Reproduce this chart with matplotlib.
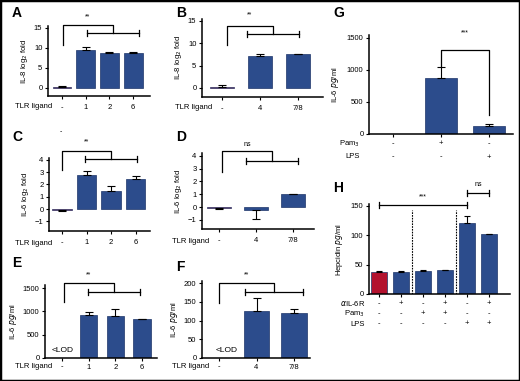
import numpy as np
import matplotlib
matplotlib.use('Agg')
import matplotlib.pyplot as plt
from matplotlib.patches import Rectangle

plt.rcParams['font.family'] = ['Liberation Sans', 'DejaVu Sans']
plt.rcParams['font.size'] = 5.5

W, H = 520, 381
BLUE = '#2C4C8C'
EDGE = '#1D3469'
RED = '#B3122E'

# ---- data ----
tlr_a = ['-', '1', '2', '6']
il8_a = [0.3, 9.6, 8.8, 8.8]
il8_a_err = [0.3, 0.7, 0.3, 0.2]

tlr_b = ['-', '4', '7/8']
il8_b = [0.3, 7.2, 7.5]
il8_b_err = [0.4, 0.3, 0.2]

il6_c = [-0.1, 2.8, 1.5, 2.4]
il6_c_err = [0.05, 0.25, 0.35, 0.25]

il6_d = [-0.1, -0.2, 1.0]
il6_d_err = [0.05, 0.7, 0.05]

il6pg_e = [np.nan, 920, 900, 840]
il6pg_e_err = [0, 60, 150, 5]

il6pg_f = [np.nan, 125, 120]
il6pg_f_err = [0, 35, 10]

il6pg_g = [0, 880, 130]
il6pg_g_err = [0, 170, 25]
g_pam = ['-', '+', '-']
g_lps = ['-', '-', '+']

hepc_h = [38, 38, 39, 41, 120, 101]
hepc_h_err = [1, 1, 1, 0.5, 13, 1]
h_ail6r = ['-', '+', '-', '+', '-', '+']
h_pam = ['-', '-', '+', '+', '-', '-']
h_lps = ['-', '-', '-', '-', '+', '+']

fig = plt.figure(figsize=(W / 100, H / 100), dpi=100)


def panel(left, right, x0, dx, y0, dy, ymin, ymax):
    # pixel geometry -> axes with matching limits
    bottom = y0 - ymin * dy
    top = y0 - ymax * dy
    ax = fig.add_axes([left / W, 1 - bottom / H, (right - left) / W, (bottom - top) / H])
    ax.set_xlim((left - x0) / dx, (right - x0) / dx)
    ax.set_ylim(ymin, ymax)
    ax.patch.set_alpha(0)
    for s in ['top', 'right']:
        ax.spines[s].set_visible(False)
    for s in ['left', 'bottom']:
        ax.spines[s].set_linewidth(1.1)
    ax.tick_params(width=0.8, length=2.5, pad=1.5, labelsize=5.5)
    return ax


def bars(ax, vals, errs, width, first_red=True, labels=None, pad=3.5):
    x = np.arange(len(vals))
    cols = [RED if (i == 0 and first_red) else BLUE for i in x]
    v = np.nan_to_num(np.array(vals, dtype=float))
    ax.bar(x, v, width, color=cols, edgecolor=EDGE, linewidth=0.5, zorder=2)
    for xi, vi, ei in zip(x, vals, errs):
        if np.isnan(vi) or ei == 0:
            continue
        yerr = [[0], [ei]] if vi >= 0 else [[ei], [0]]
        ax.errorbar(xi, vi, yerr=yerr, color='black', capsize=2.6, lw=0.8,
                    capthick=0.8, zorder=3)
    ax.set_xticks(x)
    if labels is not None:
        ax.set_xticklabels(labels)
        ax.tick_params(axis='x', pad=pad)
    return x


def bracket(ax, xl, xa, xb, ytop, yleft, ylow, label, ylab, cap):
    kw = dict(color='black', lw=0.9, clip_on=False, zorder=4)
    xm = (xa + xb) / 2
    ax.plot([xl, xl, xm, xm], [yleft, ytop, ytop, ylow], **kw)
    ax.plot([xa, xb], [ylow, ylow], **kw)
    for xx in (xa, xb):
        ax.plot([xx, xx], [ylow - cap, ylow + cap], **kw)
    ax.text((xl + xm) / 2, ylab, label, ha='center', va='center', fontsize=5)


def row_label(ax, text, dy_px, dx_px=-10, xdata=0):
    ax.annotate(text, xy=(xdata, 0), xycoords=('data', 'axes fraction'),
                xytext=(dx_px * 0.72, -dy_px * 0.72), textcoords='offset points',
                ha='right', va='center', fontsize=5.5, annotation_clip=False)


def row_signs(ax, signs, dy_px):
    for i, s in enumerate(signs):
        ax.annotate(s, xy=(i, 0), xycoords=('data', 'axes fraction'),
                    xytext=(0, -dy_px * 0.72), textcoords='offset points',
                    ha='center', va='center', fontsize=5.5, annotation_clip=False)


# ---- A ----
ax = panel(48, 150, 62, 23.7, 88, 4.0, -2, 15.5)
bars(ax, il8_a, il8_a_err, 0.8, labels=tlr_a)
ax.set_yticks([0, 5, 10, 15])
ax.set_ylabel('IL-8 log$_2$ fold', labelpad=3)
row_label(ax, 'TLR ligand', 11)
bracket(ax, 0.04, 1.05, 3.25, 15.75, 10.75, 13.75, '**', 17.8, 0.7)

# ---- B ----
ax = panel(202, 323, 222, 38, 88, 4.47, -2, 15.5)
bars(ax, il8_b, il8_b_err, 0.65, labels=tlr_b)
ax.set_yticks([0, 5, 10, 15])
ax.set_ylabel('IL-8 log$_2$ fold', labelpad=3)
row_label(ax, 'TLR ligand', 11)
bracket(ax, 0.13, 0.66, 2.03, 13.9, 9.6, 12.1, '**', 16.3, 0.6)

# ---- C ----
ax = panel(49, 150, 62, 24.5, 209, 12.3, -1.79, 4.15)
bars(ax, il6_c, il6_c_err, 0.78, labels=tlr_a)
ax.set_yticks([-1, 0, 1, 2, 3, 4])
ax.set_ylabel('IL-6 log$_2$ fold', labelpad=3)
row_label(ax, 'TLR ligand', 12)
bracket(ax, 0.0, 0.94, 3.06, 4.7, 3.2, 4.07, '**', 5.45, 0.22)
ax.text(-0.05, 6.3, '-', ha='center', va='center', fontsize=5, clip_on=False)

# ---- D ----
ax = panel(202, 314, 219, 37, 207, 12.8, -1.72, 4.2)
bars(ax, il6_d, il6_d_err, 0.65, labels=tlr_b)
ax.set_yticks([-1, 0, 1, 2, 3, 4])
ax.set_ylabel('IL-6 log$_2$ fold', labelpad=3)
row_label(ax, 'TLR ligand', 12)
bracket(ax, 0.08, 0.73, 2.14, 4.4, 2.7, 3.6, 'ns', 4.9, 0.22)

# ---- E ----
ax = panel(45, 157, 62, 26.7, 358, 0.0466, 0, 1560)
bars(ax, il6pg_e, il6pg_e_err, 0.65, labels=tlr_a, pad=1.5)
ax.set_yticks([0, 500, 1000, 1500])
ax.set_ylabel(r'IL-6 $\mathit{pg}$/ml', labelpad=3)
row_label(ax, 'TLR ligand', 9)
ax.text(-0.38, 170, '<LOD', ha='left', va='center', fontsize=6)
bracket(ax, 0.07, 0.97, 2.92, 1610, 1200, 1416, '**', 1780, 60)

# ---- F ----
ax = panel(202, 310, 219, 37.5, 358, 0.374, 0, 205)
bars(ax, il6pg_f, il6pg_f_err, 0.67, labels=tlr_b, pad=1.5)
ax.set_yticks([0, 50, 100, 150, 200])
ax.set_ylabel(r'IL-6 $\mathit{pg}$/ml', labelpad=3)
row_label(ax, 'TLR ligand', 9)
ax.text(-0.1, 21, '<LOD', ha='left', va='center', fontsize=6)
bracket(ax, 0.0, 0.69, 2.24, 200, 147, 176, '**', 222, 8)

# ---- G ----
ax = panel(369, 513, 393, 48, 134, 0.064, 0, 1550)
bars(ax, il6pg_g, il6pg_g_err, 0.67, first_red=False)
ax.set_xticklabels([])
ax.set_yticks([0, 500, 1000, 1500])
ax.set_ylabel(r'IL-6 $\mathit{pg}$/ml', labelpad=4)
row_signs(ax, g_pam, 10)
row_signs(ax, g_lps, 23)
row_label(ax, 'Pam$_3$', 10, dx_px=0, xdata=ax.get_xlim()[0] - 0.2)
row_label(ax, 'LPS', 23, dx_px=0, xdata=ax.get_xlim()[0] - 0.2)
kw = dict(color='black', lw=0.9, clip_on=False)
ax.plot([1, 1, 2, 2], [1047, 1312, 1312, 297], **kw)
ax.text(1.5, 1578, '***', ha='center', va='center', fontsize=5)

# ---- H ----
ax = panel(369, 510, 379, 22, 294, 0.59, 0, 152)
x = np.arange(len(hepc_h))
ax.bar(x, hepc_h, 0.73, color=[RED] + [BLUE] * 5, edgecolor=EDGE, linewidth=0.5, zorder=2)
for xi, vi, ei in zip(x, hepc_h, hepc_h_err):
    ax.errorbar(xi, vi, yerr=[[0], [ei]], color='black', capsize=2.2, lw=0.8,
                capthick=0.8, zorder=3)
ax.set_xticks(x)
ax.set_xticklabels([])
ax.set_yticks([0, 50, 100, 150])
ax.set_ylabel(r'Hepcidin $\mathit{pg}$/ml', labelpad=4)
for xv in (1.5, 3.5):
    ax.plot([xv, xv], [0, 142], color='black', lw=0.8, ls=(0, (1.5, 1)), zorder=1)
ax.plot([0, 4], [151, 151], **kw)
for xx in (0, 4):
    ax.plot([xx, xx], [146, 156], **kw)
ax.text(2, 164, '***', ha='center', va='center', fontsize=5)
ax.plot([4, 5], [171, 171], **kw)
for xx in (4, 5):
    ax.plot([xx, xx], [166, 176], **kw)
ax.text(4.5, 186, 'ns', ha='center', va='center', fontsize=5)
xl0 = ax.get_xlim()[0] - 0.18
row_signs(ax, h_ail6r, 10)
row_signs(ax, h_pam, 20)
row_signs(ax, h_lps, 30)
row_label(ax, r'$\alpha$IL-6R', 10, dx_px=0, xdata=xl0)
row_label(ax, 'Pam$_3$', 20, dx_px=0, xdata=xl0)
row_label(ax, 'LPS', 30, dx_px=0, xdata=xl0)

# ---- panel letters ----
for lab, px, py in [('A', 12, 13), ('B', 176, 13), ('C', 12, 137), ('D', 176, 137),
                    ('E', 12, 263), ('F', 176, 267), ('G', 333, 13), ('H', 333, 188)]:
    fig.text(px / W, 1 - py / H, lab, fontsize=10, fontweight='bold', ha='left', va='center')

fig.patches.append(Rectangle((0, 0), 1, 1, transform=fig.transFigure, fill=False,
                             edgecolor='black', linewidth=2.5))

fig.savefig('out.png', dpi=100)
